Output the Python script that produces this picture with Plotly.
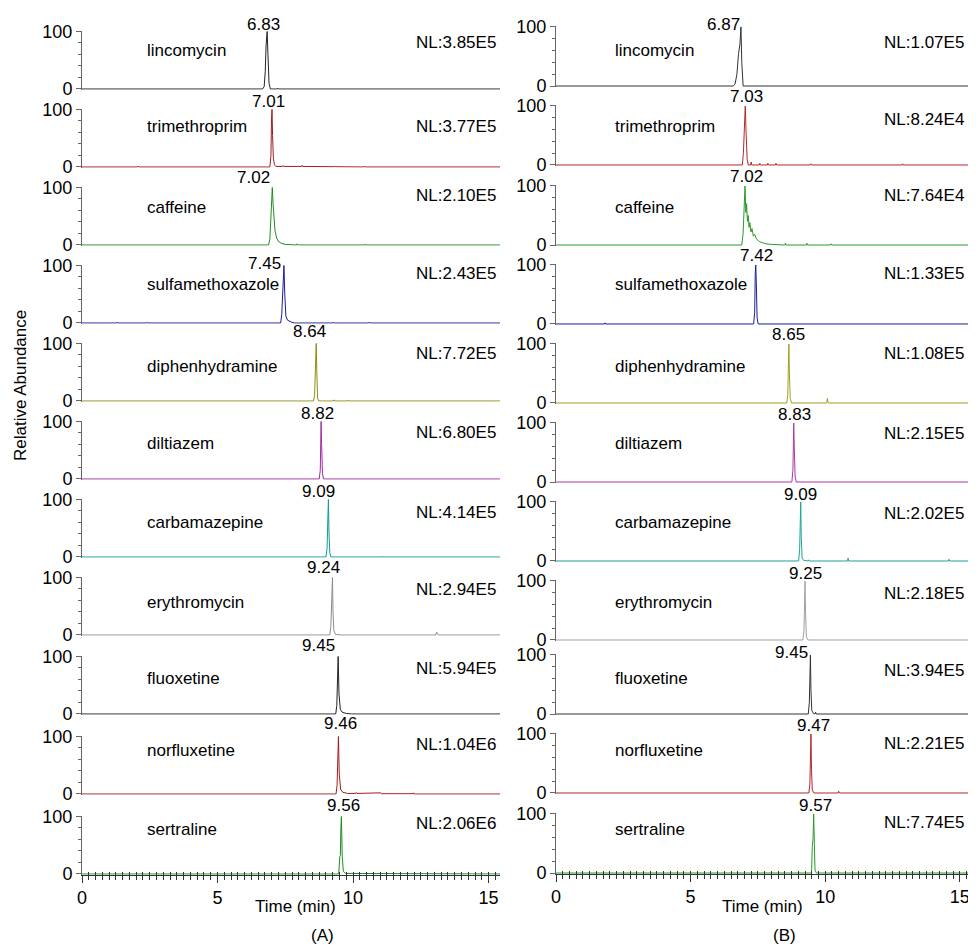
import plotly.graph_objects as go

SCREEN_W, SCREEN_H = 976, 948
OFF = 8  # the page body margin places the figure 8 px from the top-left corner
W, H = SCREEN_W - OFF, SCREEN_H - OFF

# ---------------- data ----------------
compounds = ["lincomycin", "trimethroprim", "caffeine", "sulfamethoxazole", "diphenhydramine",
             "diltiazem", "carbamazepine", "erythromycin", "fluoxetine", "norfluxetine", "sertraline"]
rt_A = ["6.83", "7.01", "7.02", "7.45", "8.64", "8.82", "9.09", "9.24", "9.45", "9.46", "9.56"]
rt_B = ["6.87", "7.03", "7.02", "7.42", "8.65", "8.83", "9.09", "9.25", "9.45", "9.47", "9.57"]
nl_A = ["NL:3.85E5", "NL:3.77E5", "NL:2.10E5", "NL:2.43E5", "NL:7.72E5", "NL:6.80E5",
        "NL:4.14E5", "NL:2.94E5", "NL:5.94E5", "NL:1.04E6", "NL:2.06E6"]
nl_B = ["NL:1.07E5", "NL:8.24E4", "NL:7.64E4", "NL:1.33E5", "NL:1.08E5", "NL:2.15E5",
        "NL:2.02E5", "NL:2.18E5", "NL:3.94E5", "NL:2.21E5", "NL:7.74E5"]
x_ticks = [0, 5, 10, 15]
x_tick_labels = ["0", "5", "10", "15"]
y_ticks = [0, 100]
y_tick_labels = ["0", "100"]

# chromatogram traces (time in min, relative abundance in %), column A
A_lincomycin_t = [0, 6.66, 6.72, 6.76, 6.79, 6.83, 6.86, 6.90, 6.95, 7.20, 7.22, 7.24, 15.6]
A_lincomycin_y = [0, 0, 4, 30, 75, 100, 60, 10, 0, 0, 1.5, 0, 0]
A_trimethroprim_t = [0, 2.05, 2.07, 2.09, 6.93, 6.97, 6.99, 7.01, 7.03, 7.06, 7.10, 7.15, 7.40, 7.42, 7.44,
                     8.10, 8.12, 8.14, 9.30, 9.32, 9.34, 10.40, 10.42, 10.44, 15.6]
A_trimethroprim_y = [0, 0, 1.5, 0, 0, 20, 80, 100, 55, 15, 4, 1, 1, 2.5, 1, 1, 3, 1, 0.5, 2, 0.5, 0, 1.5, 0, 0]
A_caffeine_t = [0, 6.88, 6.93, 6.97, 7.00, 7.02, 7.05, 7.08, 7.12, 7.18, 7.25, 7.35, 7.50, 7.91, 7.93, 7.95,
                10.42, 10.44, 10.46, 15.6]
A_caffeine_y = [0, 0, 10, 55, 85, 100, 70, 45, 25, 12, 6, 3, 1, 0, 2, 0, 0, 1.5, 0, 0]
A_sulfamethoxazole_t = [0, 1.28, 1.30, 1.32, 2.38, 2.40, 2.42, 7.33, 7.37, 7.41, 7.45, 7.48, 7.52, 7.58, 7.65,
                        7.75, 7.85, 9.25, 9.27, 9.29, 10.58, 10.60, 10.62, 15.6]
A_sulfamethoxazole_y = [0, 0, 1.5, 0, 0, 1.2, 0, 0, 15, 70, 100, 50, 12, 5, 3, 1, 0, 0, 1.5, 0, 0, 1.5, 0, 0]
A_diphenhydramine_t = [0, 8.54, 8.58, 8.61, 8.64, 8.66, 8.69, 8.74, 9.28, 9.30, 9.32, 9.78, 9.80, 9.82, 15.6]
A_diphenhydramine_y = [0, 0, 10, 70, 100, 55, 5, 0, 0, 2, 0, 0, 1.5, 0, 0]
A_diltiazem_t = [0, 8.75, 8.79, 8.81, 8.82, 8.84, 8.87, 8.91, 15.6]
A_diltiazem_y = [0, 0, 15, 75, 100, 60, 10, 0, 0]
A_carbamazepine_t = [0, 9.00, 9.04, 9.07, 9.09, 9.11, 9.14, 9.18, 11.05, 11.07, 11.09, 15.6]
A_carbamazepine_y = [0, 0, 15, 70, 100, 45, 8, 0, 0, 1.5, 0, 0]
A_erythromycin_t = [0, 9.14, 9.18, 9.21, 9.24, 9.26, 9.29, 9.35, 9.45, 9.47, 9.49, 13.05, 13.08, 13.11, 13.15, 15.6]
A_erythromycin_y = [0, 0, 15, 70, 100, 40, 8, 1, 0, 2, 0, 0, 5, 3, 0, 0]
A_fluoxetine_t = [0, 9.36, 9.40, 9.43, 9.45, 9.48, 9.53, 9.60, 9.75, 9.95, 15.6]
A_fluoxetine_y = [0, 0, 15, 70, 100, 35, 8, 3, 1, 0, 0]
A_norfluxetine_t = [0, 9.37, 9.41, 9.44, 9.46, 9.49, 9.54, 9.62, 9.80, 10.1, 10.12, 10.14, 11.0, 11.02, 11.04,
                    12.2, 12.22, 12.24, 15.6]
A_norfluxetine_y = [0, 0, 15, 75, 100, 35, 8, 3, 1, 1, 2.5, 1, 1, 2, 0.5, 0.5, 2, 0, 0]
A_sertraline_t = [0, 9.47, 9.51, 9.53, 9.55, 9.57, 9.60, 9.64, 9.72, 15.6]
A_sertraline_y = [0, 0, 30, 32, 80, 100, 30, 5, 1, 0]

# column B
B_lincomycin_t = [0, 6.58, 6.65, 6.72, 6.78, 6.83, 6.87, 6.90, 6.95, 15.6]
B_lincomycin_y = [0, 0, 3, 20, 55, 70, 100, 40, 0, 0]
B_trimethroprim_t = [0, 6.92, 6.96, 6.99, 7.01, 7.03, 7.06, 7.10, 7.14, 7.23, 7.25, 7.27, 7.55, 7.57, 7.59,
                     7.85, 7.87, 7.89, 8.15, 8.17, 8.19, 9.45, 9.47, 9.49, 12.85, 12.87, 12.89, 15.6]
B_trimethroprim_y = [0, 0, 20, 60, 65, 100, 55, 10, 0, 0, 5, 0, 0, 3, 0, 0, 3, 0, 0, 3, 0, 0, 2, 0, 0, 2, 0, 0]
B_caffeine_t = [0, 6.90, 6.95, 6.99, 7.02, 7.05, 7.08, 7.11, 7.14, 7.17, 7.20, 7.24, 7.28, 7.33, 7.38, 7.45,
                7.55, 7.65, 7.80, 8.00, 8.50, 8.52, 8.54, 9.30, 9.32, 9.34, 10.20, 10.22, 10.24, 15.6]
B_caffeine_y = [0, 0, 20, 80, 100, 55, 70, 40, 50, 30, 38, 22, 28, 15, 18, 10, 6, 4, 2, 1, 0, 3, 0, 0, 3, 0,
                0, 2, 0, 0]
B_sulfamethoxazole_t = [0, 1.80, 1.82, 1.84, 7.34, 7.38, 7.40, 7.42, 7.44, 7.47, 7.51, 15.6]
B_sulfamethoxazole_y = [0, 0, 2, 0, 0, 20, 85, 100, 70, 10, 0, 0]
B_diphenhydramine_t = [0, 8.57, 8.61, 8.63, 8.65, 8.67, 8.70, 8.75, 10.05, 10.08, 10.11, 15.6]
B_diphenhydramine_y = [0, 0, 15, 70, 100, 50, 8, 0, 0, 8, 0, 0]
B_diltiazem_t = [0, 8.76, 8.80, 8.82, 8.83, 8.85, 8.88, 8.92, 15.6]
B_diltiazem_y = [0, 0, 20, 75, 100, 60, 10, 0, 0]
B_carbamazepine_t = [0, 9.01, 9.05, 9.07, 9.09, 9.11, 9.14, 9.20, 9.35, 9.37, 9.39, 10.83, 10.85, 10.87,
                     14.58, 14.60, 14.62, 15.6]
B_carbamazepine_y = [0, 0, 20, 70, 100, 40, 5, 1, 0, 2, 0, 0, 5, 0, 0, 3, 0, 0]
B_erythromycin_t = [0, 9.17, 9.21, 9.23, 9.25, 9.27, 9.30, 9.36, 15.6]
B_erythromycin_y = [0, 0, 15, 70, 100, 45, 5, 0, 0]
B_fluoxetine_t = [0, 9.37, 9.41, 9.43, 9.45, 9.47, 9.50, 9.56, 9.62, 9.64, 9.66, 15.6]
B_fluoxetine_y = [0, 0, 20, 80, 100, 40, 6, 1, 0, 3, 0, 0]
B_norfluxetine_t = [0, 9.39, 9.43, 9.45, 9.47, 9.49, 9.52, 9.58, 10.48, 10.50, 10.52, 15.6]
B_norfluxetine_y = [0, 0, 15, 70, 100, 40, 5, 0, 0, 3, 0, 0]
B_sertraline_t = [0, 9.49, 9.52, 9.54, 9.55, 9.57, 9.59, 9.62, 9.67, 15.6]
B_sertraline_y = [0, 0, 45, 55, 60, 100, 45, 5, 0, 0]

series_A = [(A_lincomycin_t, A_lincomycin_y), (A_trimethroprim_t, A_trimethroprim_y),
            (A_caffeine_t, A_caffeine_y), (A_sulfamethoxazole_t, A_sulfamethoxazole_y),
            (A_diphenhydramine_t, A_diphenhydramine_y), (A_diltiazem_t, A_diltiazem_y),
            (A_carbamazepine_t, A_carbamazepine_y), (A_erythromycin_t, A_erythromycin_y),
            (A_fluoxetine_t, A_fluoxetine_y), (A_norfluxetine_t, A_norfluxetine_y),
            (A_sertraline_t, A_sertraline_y)]
series_B = [(B_lincomycin_t, B_lincomycin_y), (B_trimethroprim_t, B_trimethroprim_y),
            (B_caffeine_t, B_caffeine_y), (B_sulfamethoxazole_t, B_sulfamethoxazole_y),
            (B_diphenhydramine_t, B_diphenhydramine_y), (B_diltiazem_t, B_diltiazem_y),
            (B_carbamazepine_t, B_carbamazepine_y), (B_erythromycin_t, B_erythromycin_y),
            (B_fluoxetine_t, B_fluoxetine_y), (B_norfluxetine_t, B_norfluxetine_y),
            (B_sertraline_t, B_sertraline_y)]

# ---------------- styles / layout positions (screen pixels) ----------------
colors_A = ["#222222", "#a01c1c", "#1e8c1e", "#1c1c96", "#8c8c10", "#a02aa0",
            "#109898", "#8c8c8c", "#222222", "#a01c1c", "#1e8c1e"]
colors_B = ["#333333", "#b02a2a", "#2a9a2a", "#1c1c96", "#a0a020", "#a838a8",
            "#20a0a0", "#a0a0a0", "#333333", "#b02a2a", "#2a9a2a"]

zero_px = {"A": [89, 167, 245, 323, 401, 479, 557, 635, 714, 794, 874],
           "B": [86, 165, 245, 324, 403, 482, 561, 640, 714, 793, 873]}
height_px = {"A": 57.5, "B": 59}
x_px = {"A": (82, 500), "B": (556, 976)}
x_max = {"A": 15.42, "B": 15.6}
name_y_px = [50, 127, 208, 284, 366, 443, 522, 602, 678, 750, 829]
nl_y_px = {"A": [42, 126, 196, 273, 354, 432, 512, 589, 668, 744, 823],
           "B": [42, 119, 196, 273, 354, 433, 513, 593, 670, 743, 822]}
name_x_px = {"A": 145, "B": 613}
nl_x_px = {"A": 414, "B": 882}
peak_y_px = {"A": [24, 102, 178, 264, 332, 413, 491, 567, 645, 723, 805],
             "B": [24, 97, 176, 256, 334, 415, 494, 573, 652, 725, 805]}
peak_dx = {"A": [-4, -4, -19, -19, -7, -4, -10, -9, -20, 2, 2],
           "B": [-17, 1, 1, 1, 0, 1, 0, 0, -19, 3, 2]}

FONT = "Liberation Sans, Arial, Helvetica, sans-serif"
FS = 17


def py(p):
    return 1 - (p - OFF) / H


def pxx(p):
    return (p - OFF) / W


fig = go.Figure()
layout = dict(
    template="none",
    width=W, height=H, margin=dict(l=0, r=0, t=0, b=0, autoexpand=False),
    paper_bgcolor="white", plot_bgcolor="white", showlegend=False,
    font=dict(family=FONT, size=FS, color="black"),
)
annotations = []
YLO, YHI = -1.5, 101.5

for c, col in enumerate(["A", "B"]):
    series = series_A if col == "A" else series_B
    colors = colors_A if col == "A" else colors_B
    rts = rt_A if col == "A" else rt_B
    nls = nl_A if col == "A" else nl_B
    for i in range(11):
        idx = c * 11 + i + 1
        xs = "x" if idx == 1 else f"x{idx}"
        ys = "y" if idx == 1 else f"y{idx}"
        xk = "xaxis" if idx == 1 else f"xaxis{idx}"
        yk = "yaxis" if idx == 1 else f"yaxis{idx}"
        t, v = series[i]
        fig.add_trace(go.Scatter(x=t, y=v, mode="lines", xaxis=xs, yaxis=ys,
                                 line=dict(color=colors[i], width=1), hoverinfo="skip"))
        z = zero_px[col][i]
        h = height_px[col]
        ppu = h / 100.0
        bot = z + (0 - YLO) * ppu
        top = z - h - (YHI - 100) * ppu
        bottom_panel = (i == 10)
        xdom = [pxx(x_px[col][0]), min(1.0, pxx(x_px[col][1]))]
        layout[xk] = dict(
            domain=xdom, anchor=ys, automargin=False,
            range=[0, x_max[col]], showgrid=False, zeroline=False,
            showline=bottom_panel, linecolor="#333333", linewidth=1,
            tickmode="array", tickvals=x_ticks, ticktext=x_tick_labels,
            showticklabels=bottom_panel, ticks="outside" if bottom_panel else "",
            ticklen=7, tickcolor="#333333", tickfont=dict(size=18),
            minor=dict(dtick=0.25, ticks="outside" if bottom_panel else "", ticklen=4,
                       tickcolor="#333333"),
        )
        layout[yk] = dict(
            domain=[py(bot), py(top)], anchor=xs, range=[YLO, YHI], automargin=False,
            showgrid=False, zeroline=False, showline=True, linecolor="#666666", linewidth=1,
            tickmode="array", tickvals=y_ticks, ticktext=y_tick_labels,
            ticks="outside", ticklen=5, tickcolor="#666666", tickfont=dict(size=18),
            minor=dict(tickmode="array", tickvals=[20, 40, 60, 80], ticks="outside",
                       ticklen=3, tickcolor="#666666"),
        )
        if bottom_panel:
            # twin axis drawing the inner half of the crossing time ticks
            oidx = 23 + c
            fig.add_trace(go.Scatter(x=[], y=[], mode="lines", xaxis=f"x{oidx}", yaxis=ys,
                                     hoverinfo="skip", showlegend=False))
            layout[f"xaxis{oidx}"] = dict(
                domain=xdom, anchor=ys, overlaying=xs, automargin=False,
                range=[0, x_max[col]], showgrid=False, zeroline=False, showline=False,
                tickmode="array", tickvals=x_ticks, showticklabels=False,
                ticks="inside", ticklen=3, tickcolor="#333333",
                minor=dict(dtick=0.25, ticks="inside", ticklen=3, tickcolor="#333333"),
            )
        annotations.append(dict(text=compounds[i], xref="paper", yref="paper",
                                x=pxx(name_x_px[col]), y=py(name_y_px[i]),
                                xanchor="left", yanchor="middle", showarrow=False,
                                font=dict(size=FS)))
        annotations.append(dict(text=nls[i], xref="paper", yref="paper",
                                x=pxx(nl_x_px[col]), y=py(nl_y_px[col][i]),
                                xanchor="left", yanchor="middle", showarrow=False,
                                font=dict(size=FS)))
        annotations.append(dict(text=rts[i], xref=xs, yref="paper",
                                x=float(rts[i]), xshift=peak_dx[col][i],
                                y=py(peak_y_px[col][i]),
                                xanchor="center", yanchor="middle", showarrow=False,
                                font=dict(size=FS)))

annotations.append(dict(text="Time (min)", xref="paper", yref="paper", x=pxx(295), y=py(906),
                        xanchor="center", yanchor="middle", showarrow=False, font=dict(size=FS)))
annotations.append(dict(text="Time (min)", xref="paper", yref="paper", x=pxx(762), y=py(906),
                        xanchor="center", yanchor="middle", showarrow=False, font=dict(size=FS)))
annotations.append(dict(text="(A)", xref="paper", yref="paper", x=pxx(322), y=py(935),
                        xanchor="center", yanchor="middle", showarrow=False, font=dict(size=FS)))
annotations.append(dict(text="(B)", xref="paper", yref="paper", x=pxx(784), y=py(935),
                        xanchor="center", yanchor="middle", showarrow=False, font=dict(size=FS)))
annotations.append(dict(text="Relative Abundance", xref="paper", yref="paper", x=pxx(20), y=py(386),
                        xanchor="center", yanchor="middle", textangle=-90, showarrow=False,
                        font=dict(size=FS)))

layout["annotations"] = annotations
fig.update_layout(**layout)
fig.write_html("out.html")
